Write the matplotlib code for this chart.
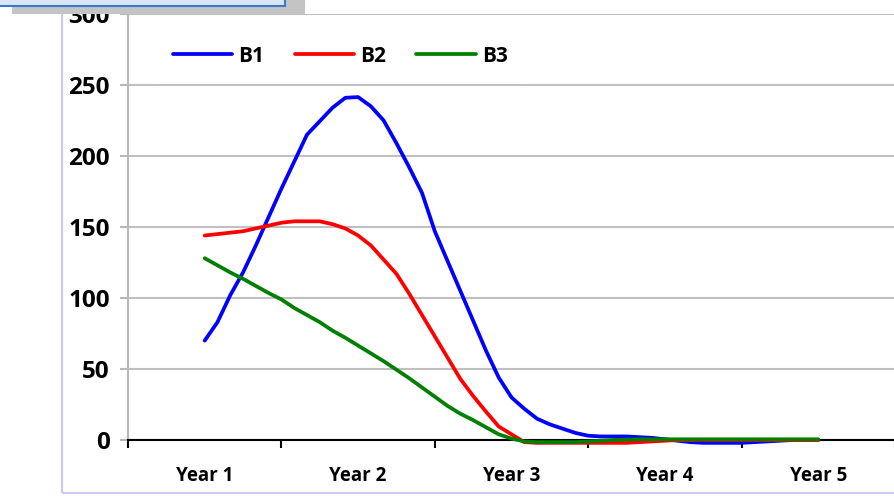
# monthly balances for three series over five years, Excel style line chart
import numpy as np
import matplotlib.pyplot as plt
from matplotlib.patches import Rectangle

plt.rcParams['font.family'] = ['Open Sans', 'DejaVu Sans']
plt.rcParams['font.weight'] = 'bold'

years = ["Year 1", "Year 2", "Year 3", "Year 4", "Year 5"]
names = ["B1", "B2", "B3"]
colors = ["#0000ff", "#ff0000", "#008000"]

# one value per month, Year 1 to Year 5
b1 = [70, 83, 102, 118, 137, 157, 177, 196, 215, 224.5, 234, 241, 241.5,
      235, 225, 209, 192, 174, 147, 126, 105, 84, 63, 44, 30,
      22, 15, 11, 8, 5, 3, 2.5, 2.5, 2.5, 2, 1.5, 0.5,
      -0.5, -1.5, -2, -2, -2, -2, -1.5, -1, -0.5, 0, 0, 0]
b2 = [144, 145, 146, 147, 149, 151, 153, 154, 154, 154, 152, 149, 144,
      137, 127, 117, 103, 88, 73, 58, 43, 31, 20, 9.5, 4,
      -1.5, -2, -2, -2, -2, -2, -2, -2, -2, -1.5, -1, -0.5,
      0, 0, 0, 0, 0, 0, 0, 0, 0, 0, 0, 0]
b3 = [128, 123, 118, 113.5, 108.5, 103.5, 99, 93, 88, 83, 77, 72, 66.5,
      61, 55.5, 49.5, 43.5, 37, 30.5, 24, 18.5, 14, 9, 4, 1,
      -1, -1.5, -1.5, -1.5, -1.5, -1, -0.5, 0, 0.3, 0.5, 0.5, 0.5,
      0.5, 0.5, 0.5, 0.5, 0.5, 0.5, 0.5, 0.5, 0.5, 0.5, 0.5, 0.5]
months = 1 + np.arange(len(b1)) / 12.0

fig = plt.figure(figsize=(8.95, 4.98), dpi=100)
ax = fig.add_axes([128/895, 1 - 440/498, 1 - 128/895, 426/498])

for vals, name, c in zip([b1, b2, b3], names, colors):
    ax.plot(months, vals, color=c, lw=2.7, label=name, clip_on=False, zorder=4,
            solid_capstyle='round', solid_joinstyle='round')

ax.set_xlim(0.5, 5.5)
ax.set_ylim(0, 300)
ax.set_yticks(range(0, 301, 50))
ax.tick_params(axis='y', labelsize=17.5, length=6, width=1.5, color='#b8b8b8', pad=7)

# category ticks between years, labels centred under each year
ax.set_xticks(np.arange(0.5, 5.6, 1))
ax.set_xticklabels([])
ax.set_xticks(range(1, 6), minor=True)
ax.set_xticklabels(years, minor=True)
ax.tick_params(axis='x', which='major', length=6, width=1.5, color='black')
ax.tick_params(axis='x', which='minor', length=0, labelsize=13.5, pad=19)

ax.grid(axis='y', color='#c0c0c0', lw=1.5)
ax.set_axisbelow(True)
ax.spines['top'].set_visible(False)
ax.spines['right'].set_visible(False)
ax.spines['left'].set_color('#b8b8b8')
ax.spines['left'].set_linewidth(1.5)
ax.spines['bottom'].set_color('black')
ax.spines['bottom'].set_linewidth(1.5)
ax.spines['bottom'].set_zorder(3)

leg = ax.legend(loc='center left', bbox_to_anchor=(155/895, 1 - 56/498),
                bbox_transform=fig.transFigure, ncol=3, frameon=True,
                fancybox=False, edgecolor='none', facecolor='white', framealpha=1,
                fontsize=15, handlelength=2.85, handletextpad=0.3,
                columnspacing=1.45, borderpad=0.85, borderaxespad=0)
leg.set_zorder(5)

# outer chart border and the title box peeking in at the top left
fig.add_artist(Rectangle((62/895, 5/498), 1, 1, transform=fig.transFigure,
                         fill=False, edgecolor='#c8c8f2', lw=1.5))
fig.add_artist(Rectangle((12/895, 1 - 14/498), 293/895, 0.1, transform=fig.transFigure,
                         facecolor='#c4c4c4', edgecolor='none'))
fig.add_artist(Rectangle((-0.01, 1 - 6/498), 294/895, 0.1, transform=fig.transFigure,
                         facecolor='#d8e6f6', edgecolor='#3c78c8', lw=1.5))

plt.savefig('out.png', dpi=100)
